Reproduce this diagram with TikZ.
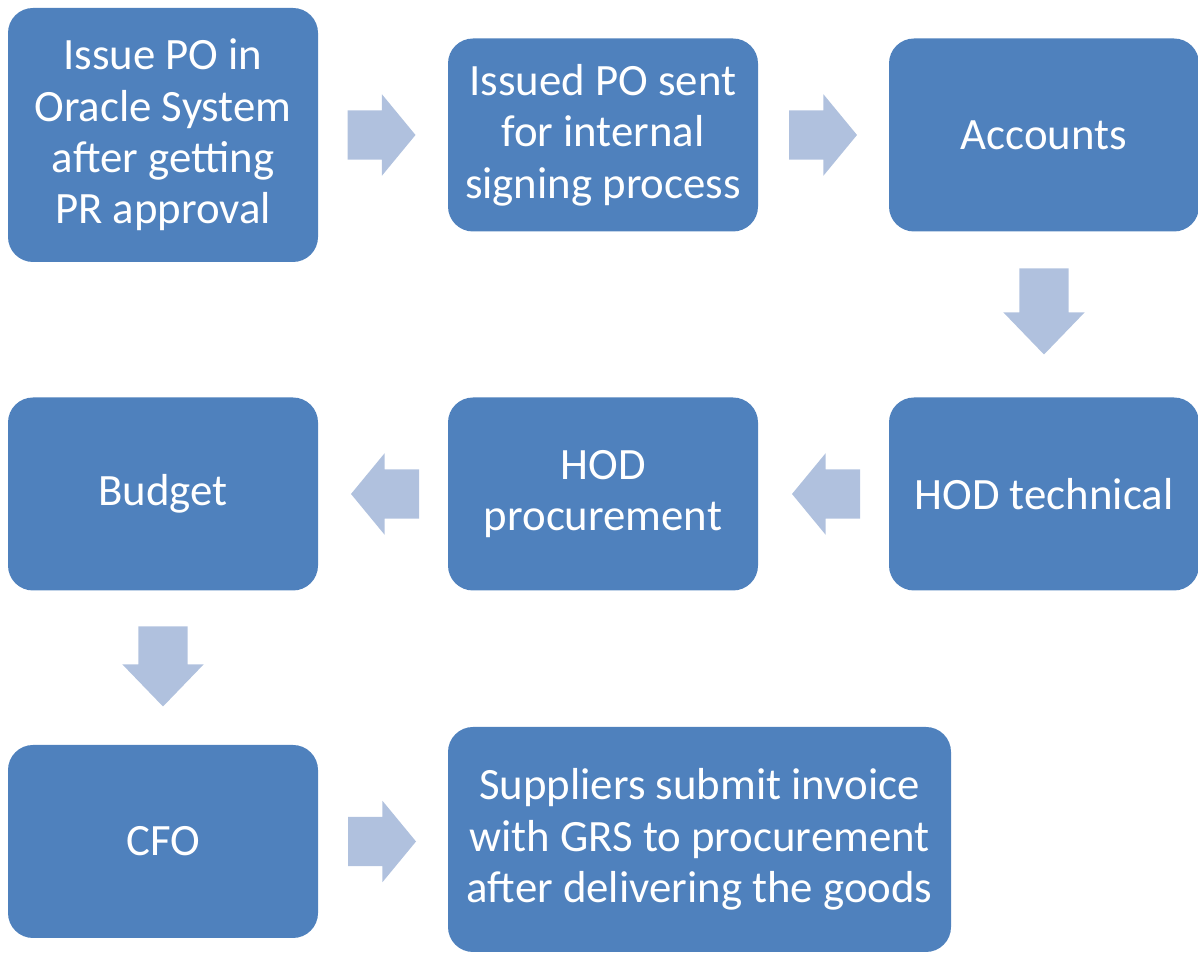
\documentclass[tikz,border=0pt]{standalone}
\usepackage{fontspec}
\setmainfont{Carlito}
\usetikzlibrary{shapes.arrows,calc}
\definecolor{boxblue}{HTML}{4F81BD}
\definecolor{arrowblue}{HTML}{B0C1DE}
\tikzset{
  procbox/.style={rectangle, rounded corners=0.25cm, fill=boxblue, text=white,
    align=center, inner sep=0pt, outer sep=0pt, minimum width=3.1cm, minimum height=1.93cm,
    font=\fontsize{12.75}{14.6}\selectfont},
  flowarrow/.style={single arrow, fill=arrowblue, draw=none, inner xsep=0pt, inner ysep=0.24cm, outer sep=0pt,
    minimum width=0.80cm, minimum height=0.68cm, single arrow head extend=0.16cm,
    single arrow tip angle=101, anchor=tail},
  downarrow/.style={flowarrow, inner xsep=0.24cm, inner ysep=0pt, minimum height=0.86cm,
    single arrow tip angle=88, shape border rotate=270}
}
\begin{document}
\begin{tikzpicture}
        \useasboundingbox (0,0) rectangle (11.98,-9.54);

        % Top row
        \node[procbox, minimum height=2.54cm] (issue) at (1.63,-1.35) {Issue PO in\\Oracle System\\after getting\\PR approval};
        \node[procbox] (signing) at (6.03,-1.35) {Issued PO sent\\for internal\\signing process};
        \node[procbox] (accounts) at (10.44,-1.35) {Accounts};

        % Middle row
        \node[procbox] (hodtech) at (10.44,-4.94) {HOD technical};
        \node[procbox] (hodproc) at (6.03,-4.94) {HOD\\procurement};
        \node[procbox] (budget) at (1.63,-4.94) {Budget};

        % Bottom row
        \node[procbox] (cfo) at (1.63,-8.415) {CFO};
        \node[procbox, minimum width=5.03cm, minimum height=2.25cm] (suppliers) at (6.995,-8.395) {Suppliers submit invoice\\with GRS to procurement\\after delivering the goods};

        % Block arrows between the steps
        \node[flowarrow] (a1) at ($(issue.east)+(0.295,0)$) {};
        \node[flowarrow] (a2) at ($(signing.east)+(0.31,0)$) {};
        \node[downarrow] (a3) at ($(accounts.south)+(0,-0.37)$) {};
        \node[flowarrow, shape border rotate=180] (a4) at ($(hodtech.west)+(-0.29,0)$) {};
        \node[flowarrow, shape border rotate=180] (a5) at ($(hodproc.west)+(-0.29,0)$) {};
        \node[downarrow, minimum height=0.80cm] (a6) at ($(budget.south)+(0,-0.36)$) {};
        \node[flowarrow] (a7) at ($(cfo.east)+(0.30,0)$) {};
    \end{tikzpicture}
\end{document}
